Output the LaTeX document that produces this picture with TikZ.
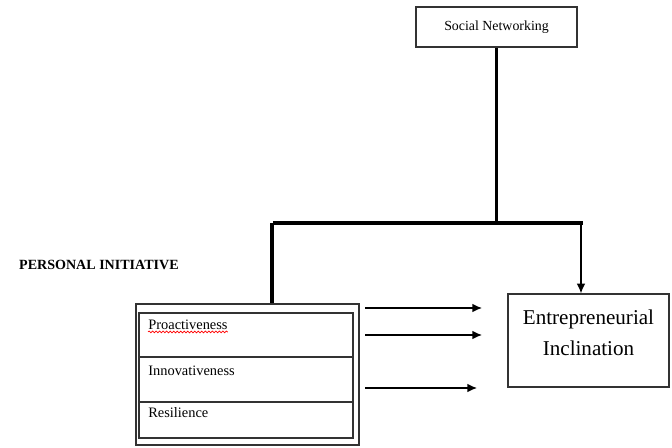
\documentclass[tikz,border=0pt]{standalone}
\usepackage{fontspec}
\setmainfont{Liberation Serif}
\usetikzlibrary{arrows.meta, positioning, decorations.pathmorphing}

\tikzset{
    caixa/.style={draw=black!80, line width=0.8pt, inner sep=0pt},
    celula/.style={draw=black!80, line width=0.6pt, minimum width=4.28cm, inner sep=0pt, outer sep=0pt},
    rotulo/.style={anchor=west, inner sep=0pt, font=\fontsize{8.2}{10}\selectfont},
    seta/.style={line width=0.8pt, -{Latex[length=5.5pt,width=5pt]}},
    barra/.style={line width=1.8pt},
}

\begin{document}
\begin{tikzpicture}
    \useasboundingbox (0,0) rectangle (13.44,8.94);

    % Social Networking
    \node[caixa, minimum width=3.22cm, minimum height=0.8cm, font=\fontsize{7.9}{10}\selectfont] (sn) at (9.93,8.4) {Social Networking};

    % Barra horizontal
    \coordinate (bl) at (5.44,4.48);
    \coordinate (br) at (11.62,4.48);
    \coordinate (bm) at (sn.south |- bl);
    \draw[barra] (sn.south) -- (bm);
    \draw[line width=2pt] ([xshift=0.02cm]bl) -- ([xshift=0.04cm]br);

    % Personal initiative
    \node[anchor=west, font=\bfseries\fontsize{8}{10}\selectfont] (pi) at (0.26,3.64) {PERSONAL INITIATIVE};
    \node[caixa, minimum width=4.46cm, minimum height=2.82cm] (ext) at (4.95,1.45) {};
    \node[celula, minimum height=0.88cm] (pro) at (4.92,2.24) {};
    \node[celula, minimum height=0.9cm, below=0pt of pro] (inn) {};
    \node[celula, minimum height=0.72cm, below=0pt of inn] (res) {};

    \node[rotulo] (protxt) at ([xshift=0.18cm,yshift=-0.24cm]pro.north west) {Proactiveness};
    \node[rotulo] (inntxt) at ([xshift=0.18cm,yshift=-0.28cm]inn.north west) {Innovativeness};
    \node[rotulo] (restxt) at ([xshift=0.18cm,yshift=-0.22cm]res.north west) {Resilience};
    \draw[red, line width=0.4pt, decorate, decoration={snake, amplitude=0.5pt, segment length=2pt}]
        ([yshift=-1pt]protxt.south west) -- ([yshift=-1pt]protxt.south east);

    \draw[barra] (bl) -- (bl |- ext.north);

    % Entrepreneurial inclination
    \node[caixa, minimum width=3.22cm, minimum height=1.86cm] (ei) at (11.77,2.13) {};
    \node[align=center, font=\fontsize{12}{17.5}\selectfont] (eitxt) at ([yshift=0.16cm]ei.center) {Entrepreneurial\\Inclination};
    \draw[seta] (br) -- (br |- ei.north);

    % Setas
    \foreach \i/\y/\x in {1/2.78/9.64, 2/2.24/9.64, 3/1.18/9.54} {
        \coordinate (s\i) at (7.3,\y);
        \coordinate (t\i) at (\x,\y);
        \draw[seta] (s\i) -- (t\i);
    }

\end{tikzpicture}
\end{document}
